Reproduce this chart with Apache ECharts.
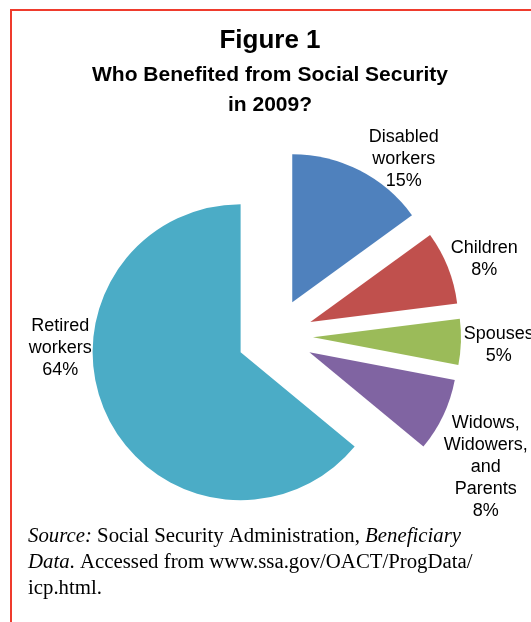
<!DOCTYPE html>
<html>
<head>
<meta charset="utf-8">
<script src="https://cdn.jsdelivr.net/npm/echarts@6/dist/echarts.min.js"></script>
<style>
  html, body { margin: 0; padding: 0; background: #ffffff; }
  #chart { width: 531px; height: 622px; }
</style>
</head>
<body>
<div id="chart"></div>
<script>
// Beneficiary groups, clockwise from 12 o'clock
const categories = ['Disabled workers', 'Children', 'Spouses', 'Widows, Widowers, and Parents', 'Retired workers'];
const labelNames = ['Disabled\nworkers', 'Children', 'Spouses', 'Widows,\nWidowers,\nand\nParents', 'Retired\nworkers'];
const shares = [15, 8, 5, 8, 64];
const colors = ['#4F81BD', '#C0504D', '#9BBB59', '#8064A2', '#4BACC6'];

// Pie geometry
const pieCenter = [275, 336];
const pieRadius = 148;
const explode = 38;
// Label placement: distance from centre and angular nudge (degrees) per slice
const labelDist = [219, 223, 224, 248, 215];
const labelNudge = [9, 1.4, 0.5, 6.6, 22];

const total = shares.reduce((a, b) => a + b, 0);
const midAngles = [];
let acc = 0;
shares.forEach(v => { midAngles.push((acc + v / 2) / total * 360); acc += v; });

const chart = echarts.init(document.getElementById('chart'), null, { renderer: 'canvas' });

const pieBase = {
  type: 'pie',
  center: pieCenter,
  radius: pieRadius,
  startAngle: 90,
  clockwise: true,
  avoidLabelOverlap: false,
  emphasis: { disabled: true },
  labelLine: { show: false }
};

chart.setOption({
  animation: false,
  backgroundColor: '#ffffff',
  title: [
    {
      text: 'Figure 1',
      left: 270, top: 28, textAlign: 'center', padding: 0,
      textStyle: { fontFamily: 'Liberation Sans', fontWeight: 'bold', fontSize: 26, lineHeight: 26, color: '#000' }
    },
    {
      text: 'Who Benefited from Social Security\nin 2009?',
      left: 270, top: 60, textAlign: 'center', padding: 0,
      textStyle: { fontFamily: 'Liberation Sans', fontWeight: 'bold', fontSize: 21, lineHeight: 30, color: '#000' }
    }
  ],
  graphic: [
    {
      type: 'rect', silent: true, z: 10,
      shape: { x: 11, y: 10, width: 700, height: 800 },
      style: { fill: 'none', stroke: '#EF3B2D', lineWidth: 2 }
    },
    {
      type: 'text', left: 28, top: 524, silent: true,
      style: {
        text: '{i|Source:} Social Security Administration, {i|Beneficiary}\n{i|Data}. Accessed from www.ssa.gov/OACT/ProgData/\nicp.html.',
        fontFamily: 'Liberation Serif', fontSize: 20.8, lineHeight: 26, fill: '#000',
        rich: { i: { fontFamily: 'Liberation Serif', fontStyle: 'italic', fontSize: 20.8, lineHeight: 26 } }
      }
    }
  ],
  series: [
    // Exploded slices
    Object.assign({}, pieBase, {
      selectedMode: 'multiple',
      selectedOffset: explode,
      select: { itemStyle: { borderWidth: 0 } },
      label: { show: false },
      data: categories.map((name, i) => ({
        name,
        value: shares[i],
        selected: true,
        itemStyle: { color: colors[i] }
      }))
    }),
    // Category labels laid out around the exploded pie
    Object.assign({}, pieBase, {
      silent: true,
      z: 3,
      itemStyle: { color: 'rgba(0,0,0,0)' },
      label: {
        show: true,
        position: 'outside',
        fontFamily: 'Liberation Sans',
        fontSize: 18,
        lineHeight: 22,
        color: '#000',
        formatter: p => labelNames[p.dataIndex] + '\n' + shares[p.dataIndex] + '%'
      },
      labelLayout: p => {
        const i = p.dataIndex;
        const a = (midAngles[i] + labelNudge[i]) * Math.PI / 180;
        return {
          x: pieCenter[0] + labelDist[i] * Math.sin(a),
          y: pieCenter[1] - labelDist[i] * Math.cos(a),
          align: 'center',
          verticalAlign: 'middle'
        };
      },
      data: categories.map((name, i) => ({ name, value: shares[i] }))
    })
  ]
});
</script>
</body>
</html>
